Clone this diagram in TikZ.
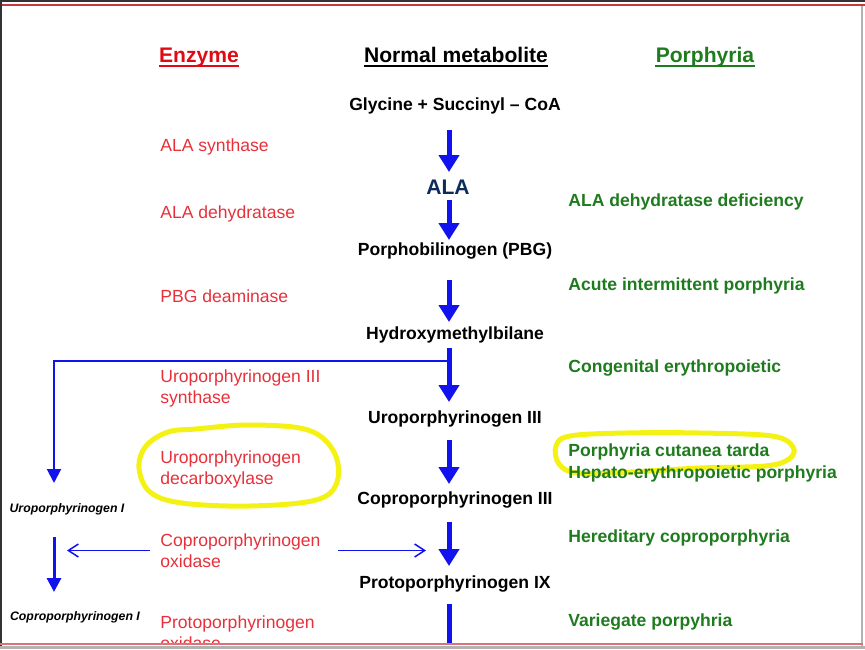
\documentclass[tikz,border=0pt]{standalone}
\usepackage{fontspec}
\setmainfont{Liberation Sans}
\usetikzlibrary{arrows.meta}

\definecolor{pijlblauw}{RGB}{18,18,238}
\definecolor{enzrood}{HTML}{E8303A}
\definecolor{koprood}{HTML}{E00A14}
\definecolor{ziektegroen}{HTML}{1E7B1E}
\definecolor{alablauw}{HTML}{0D2B5C}
\definecolor{markeer}{HTML}{F4F214}
\definecolor{randgrijs}{HTML}{333333}
\definecolor{randrood}{HTML}{C8383F}

\begin{document}
\begin{tikzpicture}[x=0.02cm, y=-0.02cm,
    tekst/.style={inner sep=0pt, font=\fontsize{10}{12}\selectfont},
    kop/.style={inner sep=0pt, anchor=base, font=\fontsize{12}{14}\selectfont\bfseries},
    metaboliet/.style={tekst, font=\fontsize{10}{12}\selectfont\bfseries},
    enzym/.style={tekst, anchor=west, align=left, text=enzrood},
    ziekte/.style={tekst, anchor=west, text=ziektegroen, font=\fontsize{10}{12}\selectfont\bfseries},
    zijtak/.style={inner sep=0pt, font=\fontsize{7}{8}\selectfont\bfseries\itshape},
    dikpijl/.style={pijlblauw, line width=0.1cm, -{Triangle[width=0.4cm, length=0.34cm]}},
    dunpijl/.style={pijlblauw, line width=0.04cm, -{Triangle[width=0.28cm, length=0.28cm]}},
    middenpijl/.style={pijlblauw, line width=0.06cm, -{Triangle[width=0.28cm, length=0.28cm]}},
    lijnpijl/.style={pijlblauw, line width=0.03cm, -{Straight Barb[width=0.26cm, length=0.2cm]}},
    ring/.style={markeer, line width=0.1cm}]
    \useasboundingbox (0,0) rectangle (865,649);

    % Rand van de dia
    \fill[randgrijs] (0,0) rectangle (865,2);
    \fill[randrood] (0,3.5) rectangle (865,5.5);
    \fill[randgrijs] (0,0) rectangle (2,649);
    \fill[black!30] (861,6) rectangle (863,649);
    \fill[randrood!70] (0,642.5) rectangle (863,644.5);
    \fill[black!30] (0,646) rectangle (865,649);

    \begin{scope}
    \clip (2,6) rectangle (861,642);

    % Kopjes met onderstreping
    \node[kop, text=koprood] (kopEnz) at (199,62) {Enzyme};
    \node[kop] (kopMet) at (456,62) {Normal metabolite};
    \node[kop, text=ziektegroen] (kopZiek) at (705,62) {Porphyria};
    \draw[koprood, line width=0.04cm] ([yshift=-0.08cm]kopEnz.base west) -- ([yshift=-0.08cm]kopEnz.base east);
    \draw[black, line width=0.04cm] ([yshift=-0.08cm]kopMet.base west) -- ([yshift=-0.08cm]kopMet.base east);
    \draw[ziektegroen, line width=0.04cm] ([yshift=-0.08cm]kopZiek.base west) -- ([yshift=-0.08cm]kopZiek.base east);

    % Gele markeringen (met de hand getekend)
    \draw[ring] plot[smooth cycle, tension=0.6] coordinates {(146,446) (168,432) (196,429) (250,425) (308,430) (334,452) (337,482) (316,500) (250,506) (182,503) (150,492) (139,468)};
    \draw[ring] plot[smooth cycle, tension=0.6] coordinates {(556,446) (570,436) (625,433) (700,433) (772,436) (793,447) (789,459) (765,466) (700,468) (630,472) (578,473) (559,464)};

    % Metabolieten in de middelste kolom
    \foreach \naam/\y/\stof in {gly/106/Glycine + Succinyl -- CoA, pbg/251/Porphobilinogen (PBG),
        hmb/335/Hydroxymethylbilane, uro3/419/Uroporphyrinogen III,
        copro3/500/Coproporphyrinogen III, proto9/584/Protoporphyrinogen IX} {
        \node[metaboliet] (\naam) at (455,\y) {\stof};
    }
    \node[tekst, text=alablauw, font=\fontsize{12}{14}\selectfont\bfseries] (ala) at (448,187) {ALA};
    \coordinate (as) at (449,0);
    \coordinate (heem) at (449,660);

    % Dikke pijlen tussen de metabolieten
    \foreach \van/\naar/\a/\b in {gly/ala/24/15, ala/pbg/13/11, pbg/hmb/29/13,
        hmb/uro3/13/17, uro3/copro3/21/16, copro3/proto9/22/18, proto9/heem/20/0} {
        \draw[dikpijl, shorten <=\a*0.02cm, shorten >=\b*0.02cm] (\van.center -| as) -- (\naar.center -| as);
    }

    % Enzymen links (rood)
    \node[enzym] (alas) at (160,147) {ALA synthase};
    \node[enzym] (alad) at (160,214) {ALA dehydratase};
    \node[enzym] (pbgd) at (160,296) {PBG deaminase};
    \node[enzym] (uros) at (160,388.5) {Uroporphyrinogen III\\synthase};
    \node[enzym] (urod) at (160,469.5) {Uroporphyrinogen\\decarboxylase};
    \node[enzym] (cpo) at (160,550.5) {Coproporphyrinogen\\oxidase};
    \node[enzym] (ppo) at (160,632.5) {Protoporphyrinogen\\oxidase};

    % Porfyrieen rechts (groen)
    \node[ziekte] (z1) at (568,202) {ALA dehydratase deficiency};
    \node[ziekte] (z2) at (568,286) {Acute intermittent porphyria};
    \node[ziekte] (z3) at (568,368) {Congenital erythropoietic};
    \node[ziekte] (z4) at (568,452) {Porphyria cutanea tarda};
    \node[ziekte] (z5) at (568,474) {Hepato-erythropoietic porphyria};
    \node[ziekte] (z6) at (568,538) {Hereditary coproporphyria};
    \node[ziekte] (z7) at (568,622) {Variegate porpyhria};

    % Zijtak naar type I
    \node[zijtak] (uro1) at (67,509) {Uroporphyrinogen I};
    \node[zijtak] (copro1) at (75,617) {Coproporphyrinogen I};
    \coordinate (links) at (54,0);
    \coordinate (tak) at (449,361);
    \draw[dunpijl, shorten >=26*0.02cm] (tak) -| (uro1.center -| links);
    \draw[middenpijl, shorten <=28*0.02cm, shorten >=25*0.02cm] (uro1.center -| links) -- (copro1.center -| links);

    % Dunne pijlen vanuit coproporfyrinogeen oxidase
    \draw[lijnpijl, shorten <=0.2cm, shorten >=0.26cm] (cpo.west) -- (cpo.west -| links);
    \draw[lijnpijl, shorten <=0.34cm, shorten >=0.46cm] (cpo.east) -- (cpo.east -| as);
    \end{scope}
\end{tikzpicture}
\end{document}
